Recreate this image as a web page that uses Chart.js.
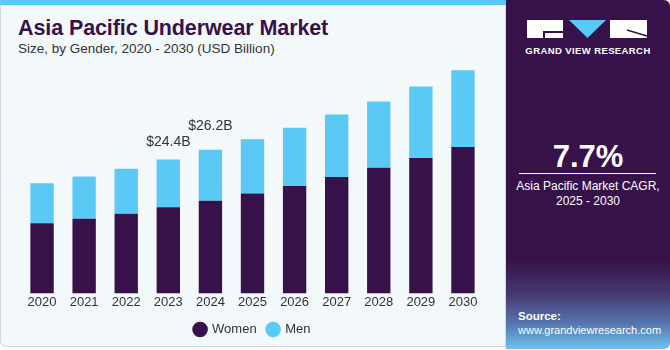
<!DOCTYPE html>
<html>
<head>
<meta charset="utf-8">
<script src="https://cdn.jsdelivr.net/npm/chart.js@4.4.1/dist/chart.umd.min.js"></script>
<style>
  body { margin: 0; width: 670px; height: 350px; overflow: hidden; background: #fff; font-family: "Liberation Sans", Arial, sans-serif; }
  .left { position: absolute; left: 0; top: 0; width: 504px; height: 346px; background: #f3f8fb; border: 1px solid #d4d8db; border-top: none; border-radius: 0 0 0 6px; }
  .topbar { position: absolute; left: 0; top: 0; width: 506px; height: 5px; background: #5bc9f5; }
  .title { position: absolute; left: 18px; top: 16px; font-size: 21.5px; font-weight: bold; color: #371149; letter-spacing: -0.1px; }
  .sub { position: absolute; left: 18px; top: 41px; font-size: 13.5px; color: #333; }
  .right { position: absolute; left: 506px; top: 0; width: 164px; height: 349px; border-radius: 0 6px 6px 0;
    background: linear-gradient(to bottom, #371149 0%, #371149 74%, #463670 84%, #5678b2 93%, #6cc3ee 100%); color: #fff; }
  .brand { position: absolute; left: 0; top: 45px; width: 164px; text-align: center; font-size: 9.5px; font-weight: bold; letter-spacing: 0.4px; }
  .cagr { position: absolute; left: 0; top: 139px; width: 164px; text-align: center; font-size: 31px; font-weight: bold; }
  .rule { position: absolute; left: 13px; top: 173px; width: 137px; height: 1px; background: #fff; }
  .cagrtxt { position: absolute; left: 0; top: 179px; width: 164px; text-align: center; font-size: 12px; line-height: 15px; }
  .src { position: absolute; left: 12px; top: 309px; font-size: 11.5px; line-height: 14px; }
  .src span { font-size: 11px; }
  #wrap { position: absolute; left: 0; top: 60px; width: 500px; height: 286px; }
</style>
</head>
<body>
<div class="left"></div>
<div class="topbar"></div>
<div class="title">Asia Pacific Underwear Market</div>
<div class="sub">Size, by Gender, 2020 - 2030 (USD Billion)</div>
<div class="right">
  <svg style="position:absolute;left:21px;top:20px" width="122" height="19">
    <rect x="0" y="0" width="36" height="18" fill="#fff"/>
    <rect x="16" y="11" width="20" height="2" fill="#371149"/>
    <rect x="16" y="11" width="2" height="7" fill="#371149"/>
    <polygon points="42,0 79,0 60.5,18" fill="#5bc9f5"/>
    <rect x="83" y="0" width="37" height="18" fill="#fff"/>
    <line x1="100" y1="10" x2="120" y2="16" stroke="#371149" stroke-width="1.5"/>
  </svg>
  <div class="brand">GRAND VIEW RESEARCH</div>
  <div class="cagr">7.7%</div>
  <div class="rule"></div>
  <div class="cagrtxt">Asia Pacific Market CAGR,<br>2025 - 2030</div>
  <div class="src"><b>Source:</b><br><span>www.grandviewresearch.com</span></div>
</div>
<div id="wrap"><canvas id="chart"></canvas></div>
<script>
const years = ['2020', '2021', '2022', '2023', '2024', '2025', '2026', '2027', '2028', '2029', '2030'];
const women = [12.8, 13.6, 14.5, 15.7, 16.9, 18.2, 19.6, 21.2, 22.9, 24.7, 26.7];
const men = [7.3, 7.7, 8.2, 8.7, 9.3, 9.9, 10.6, 11.4, 12.1, 13.0, 14.0];
const totalLabels = ['', '', '', '$24.4B', '$26.2B', '', '', '', '', '', ''];

// texte au-dessus des barres empilées
const totalLabelPlugin = {
    id: 'totalLabels',
    afterDatasetsDraw(chart) {
        const ctx = chart.ctx;
        const meta = chart.getDatasetMeta(1);
        const lift = [0, 0, 0, 17, 24, 0, 0, 0, 0, 0, 0];
        ctx.save();
        ctx.font = '14px "Liberation Sans", Arial, sans-serif';
        ctx.fillStyle = '#333';
        ctx.textAlign = 'center';
        ctx.textBaseline = 'middle';
        meta.data.forEach((bar, i) => {
            if (totalLabels[i]) ctx.fillText(totalLabels[i], bar.x, bar.y - lift[i]);
        });
        ctx.restore();
    }
};

new Chart(document.getElementById('chart'), {
    type: 'bar',
    data: {
        labels: years,
        datasets: [
            { label: 'Women', data: women, backgroundColor: '#371149', barPercentage: 0.555, categoryPercentage: 1 },
            { label: 'Men', data: men, backgroundColor: '#5bc9f5', barPercentage: 0.555, categoryPercentage: 1 }
        ]
    },
    options: {
        responsive: true,
        maintainAspectRatio: false,
        animation: false,
        layout: { padding: { left: 21, right: 16, top: 3, bottom: 0 } },
        plugins: {
            legend: {
                position: 'bottom',
                labels: {
                    usePointStyle: true,
                    pointStyle: 'circle',
                    boxWidth: 11,
                    boxHeight: 11,
                    padding: 11,
                    color: '#333',
                    font: { size: 13, family: '"Liberation Sans", Arial, sans-serif' }
                }
            },
            tooltip: { enabled: false }
        },
        scales: {
            x: {
                stacked: true,
                grid: { display: false, drawTicks: false },
                border: { display: false },
                ticks: { color: '#333', font: { size: 13, family: '"Liberation Sans", Arial, sans-serif' }, padding: 1.5 }
            },
            y: {
                stacked: true,
                display: false,
                min: 0,
                max: 42
            }
        }
    },
    plugins: [totalLabelPlugin]
});
</script>
</body>
</html>
